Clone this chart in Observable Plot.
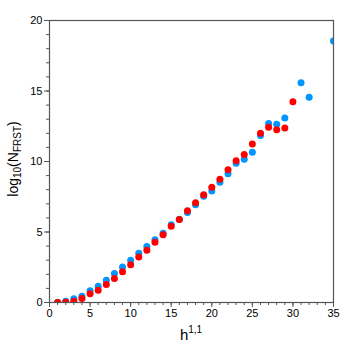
<!DOCTYPE html>
<html><head><meta charset="utf-8">
<script src="https://cdn.jsdelivr.net/npm/d3@7"></script>
<script src="https://cdn.jsdelivr.net/npm/@observablehq/plot@0.6"></script>
<style>body{margin:0;background:#fff;font-family:"Liberation Sans",Arial,sans-serif;}</style>
</head><body><div id="chart"></div>
<script>
const blueH = [1,2,3,4,5,6,7,8,9,10,11,12,13,14,15,16,17,18,19,20,21,22,23,24,25,26,27,28,29,31,32,35];
const blueV = [0.0,0.09,0.26,0.45,0.83,1.16,1.58,2.06,2.51,3.0,3.5,3.98,4.45,4.92,5.52,5.9,6.39,6.94,7.53,7.9,8.52,9.14,9.88,10.16,10.65,11.84,12.69,12.64,13.09,15.58,14.56,18.54];
const redH = [1,2,3,4,5,6,7,8,9,10,11,12,13,14,15,16,17,18,19,20,21,22,23,24,25,26,27,28,29,30];
const redV = [0.0,0.02,0.09,0.28,0.62,0.87,1.28,1.70,2.18,2.68,3.22,3.71,4.27,4.80,5.40,5.89,6.51,7.08,7.65,8.17,8.74,9.42,10.05,10.49,11.24,12.0,12.43,12.26,12.38,14.24];
const xMajor = [0,5,10,15,20,25,30,35];
const yMajor = [0,5,10,15,20];

const blue = blueH.map((h,i)=>({h, v: blueV[i]}));
const red = redH.map((h,i)=>({h, v: redV[i]}));

const plot = Plot.plot({
  width: 350, height: 350,
  marginLeft: 49, marginRight: 17, marginTop: 20, marginBottom: 48,
  style: {fontFamily: '"Liberation Sans", Arial, sans-serif', fontSize: "11px", color: "#000", background: "#fff"},
  x: {domain: [0,35], label: null},
  y: {domain: [0,20], label: null},
  marks: [
    Plot.axisX({ticks: d3.range(0,36,1), tickSize: 3, tickFormat: () => "", stroke: "#555"}),
    Plot.axisX({ticks: xMajor, tickSize: 5, tickPadding: 2, stroke: "#555", fill: "#000"}),
    Plot.axisY({ticks: d3.range(0,21,1), tickSize: 3, tickFormat: () => "", stroke: "#555"}),
    Plot.axisY({ticks: yMajor, tickSize: 5, tickPadding: 2, stroke: "#555", fill: "#000"}),
    Plot.dot(blue, {x: "h", y: "v", r: 3.5, fill: "#0096ff", clip: true}),
    Plot.dot(red, {x: "h", y: "v", r: 3.5, fill: "#ff0000", clip: true}),
    Plot.frame({stroke: "#555", strokeWidth: 1.2})
  ]
});
document.getElementById("chart").appendChild(plot);

const svg = d3.select(plot);
// y label
const yl = svg.append("text")
  .attr("transform", "translate(18,159) rotate(-90)")
  .attr("text-anchor", "middle")
  .attr("font-size", 14)
  .attr("fill", "#000");
yl.append("tspan").text("log");
yl.append("tspan").attr("font-size", 10).attr("dy", 3).text("10");
yl.append("tspan").attr("dy", -3).text("(N");
yl.append("tspan").attr("font-size", 10).attr("dy", 3).text("FRST");
yl.append("tspan").attr("dy", -3).text(")");
// x label
const xl = svg.append("text")
  .attr("x", 191).attr("y", 340)
  .attr("text-anchor", "middle")
  .attr("font-size", 15)
  .attr("fill", "#000");
xl.append("tspan").text("h");
xl.append("tspan").attr("font-size", 10).attr("dy", -7).text("1,1");
</script>
</body></html>
